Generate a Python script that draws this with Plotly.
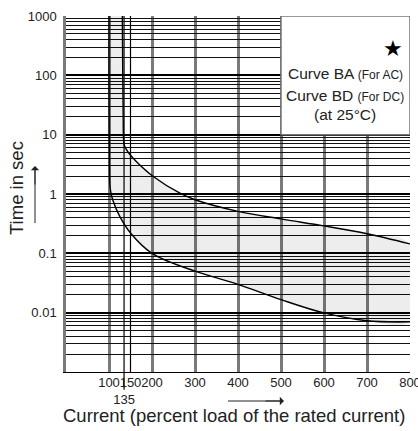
import plotly.graph_objects as go

# Trip characteristic: current in % of rated current vs. trip time (s)
upper_current = [131, 132, 133, 134, 136, 145, 164, 203, 265, 300, 400, 500, 600, 700, 800]
upper_time = [1000, 100, 20, 8, 6.5, 5.0, 3.5, 1.97, 1.03, 0.80, 0.51, 0.38, 0.29, 0.214, 0.144]

lower_current = [100, 100, 100.5, 101, 102, 105, 110, 125, 150, 200, 300, 400, 500, 600, 700, 800]
lower_time = [1000, 100, 10, 3.0, 1.43, 1.0, 0.75, 0.42, 0.22, 0.10, 0.05, 0.03, 0.0166, 0.0099, 0.0073, 0.007]

x_tick_values = [100, 135, 150, 200, 300, 400, 500, 600, 700, 800]
x_tick_labels = ["100", "<br>135", "150", "200", "300", "400", "500", "600", "700", "800"]
x_grid_gray = [100, 200, 300, 400, 500, 600, 700, 800]
x_grid_black = [135, 150]

y_tick_values = [0.01, 0.1, 1, 10, 100, 1000]
y_tick_labels = ["0.01", "0.1", "1", "10", "100", "1000"]
y_minor_values = [d * 10.0 ** e for e in range(-3, 3) for d in range(2, 10)]

W, H = 418, 431
ML, MR, MT, MB = 66, 8, 16, 59
PW, PH = W - ML - MR, H - MT - MB


def px_x(v):
    return (v - ML) / PW


def px_y(v):
    return (H - MB - v) / PH


fig = go.Figure()

# shaded band between the two limit curves
band_x = upper_current + lower_current[::-1]
band_y = upper_time + lower_time[::-1]
fig.add_trace(go.Scatter(
    x=band_x, y=band_y, mode="lines", fill="toself",
    fillcolor="rgba(0,0,0,0.07)", line=dict(width=0, shape="spline"), hoverinfo="skip",
))
fig.add_trace(go.Scatter(
    x=upper_current, y=upper_time, mode="lines",
    line=dict(color="black", width=1.4, shape="spline"),
))
fig.add_trace(go.Scatter(
    x=lower_current, y=lower_time, mode="lines",
    line=dict(color="black", width=1.4, shape="spline"),
))

shapes = []
for xv in x_grid_black:
    shapes.append(dict(type="line", xref="x", yref="paper", x0=xv, x1=xv, y0=0, y1=1,
                       line=dict(color="black", width=1.2), layer="between"))
# longer tick below the axis for 135
shapes.append(dict(type="line", xref="x", yref="paper", x0=x_grid_black[0], x1=x_grid_black[0],
                   y0=0, y1=-0.05, line=dict(color="black", width=1.2), layer="above"))
# legend box in the upper right
shapes.append(dict(type="rect", xref="x", yref="y", x0=500, x1=800, y0=10, y1=1000,
                   fillcolor="white", line=dict(color="#777", width=1.5), layer="above"))
# direction arrows beside the axis titles (shafts)
shapes.append(dict(type="line", xref="paper", yref="paper", x0=px_x(228), x1=px_x(282),
                   y0=px_y(401), y1=px_y(401), line=dict(color="#222", width=1)))
shapes.append(dict(type="line", xref="paper", yref="paper", x0=px_x(35), x1=px_x(35),
                   y0=px_y(223), y1=px_y(168), line=dict(color="#222", width=1)))


def label(text, x, y, size, **kw):
    font = dict(size=size)
    font.update(kw.pop("font", {}))
    return dict(text=text, x=px_x(x), y=px_y(y), xref="paper", yref="paper",
                xanchor="center", yanchor="middle", showarrow=False, font=font, **kw)


annotations = [
    label("★", 393, 48, 22, font=dict(color="black", family="DejaVu Sans")),
    label("Curve BA <span style='font-size:12px'>(For AC)</span>", 345, 74, 15.5),
    label("Curve BD <span style='font-size:12px'>(For DC)</span>", 345, 95, 15.5),
    label("(at 25°C)", 345, 114, 15.5),
    # axis titles
    label("Current (percent load of the rated current)", 234, 415, 18.5),
    label("Time in sec", 17, 188, 18.5, textangle=-90),
    # arrow heads
    dict(xref="paper", yref="paper", x=px_x(284), y=px_y(401), ax=-20, ay=0, text="",
         showarrow=True, arrowhead=1, arrowsize=1.4, arrowwidth=1, arrowcolor="#222",
         standoff=0, startstandoff=0),
    dict(xref="paper", yref="paper", x=px_x(35), y=px_y(166), ax=0, ay=20, text="",
         showarrow=True, arrowhead=1, arrowsize=1.4, arrowwidth=1, arrowcolor="#222",
         standoff=0, startstandoff=0),
]

fig.update_layout(
    width=W, height=H,
    margin=dict(l=ML, r=MR, t=MT, b=MB),
    paper_bgcolor="white", plot_bgcolor="white",
    showlegend=False,
    font=dict(family="Liberation Sans, Arial, sans-serif", color="#222"),
    shapes=shapes,
    annotations=annotations,
    xaxis=dict(
        range=[0, 800], tickmode="array", tickvals=x_tick_values, ticktext=x_tick_labels,
        tickangle=0, automargin=False, ticklabeloverflow="allow", ticklabelstandoff=-2,
        showgrid=False, zeroline=False, ticks="", tickfont=dict(size=13),
        showline=True, linecolor="black", linewidth=1, mirror=False,
        minor=dict(tickmode="array", tickvals=x_grid_gray, showgrid=True,
                   gridcolor="#7a7a7a", gridwidth=2.5, ticks=""),
    ),
    yaxis=dict(
        type="log", range=[-3, 3], tickmode="array", tickvals=y_tick_values,
        ticktext=y_tick_labels, showgrid=True, gridcolor="black", gridwidth=1.6,
        ticks="", tickfont=dict(size=13), ticklabelstandoff=4, zeroline=False,
        automargin=False,
        showline=True, linecolor="#7a7a7a", linewidth=2.5, mirror=False,
        minor=dict(tickmode="array", tickvals=y_minor_values, showgrid=True,
                   gridcolor="#111", gridwidth=1, ticks=""),
    ),
)

fig.write_html("out.html")
